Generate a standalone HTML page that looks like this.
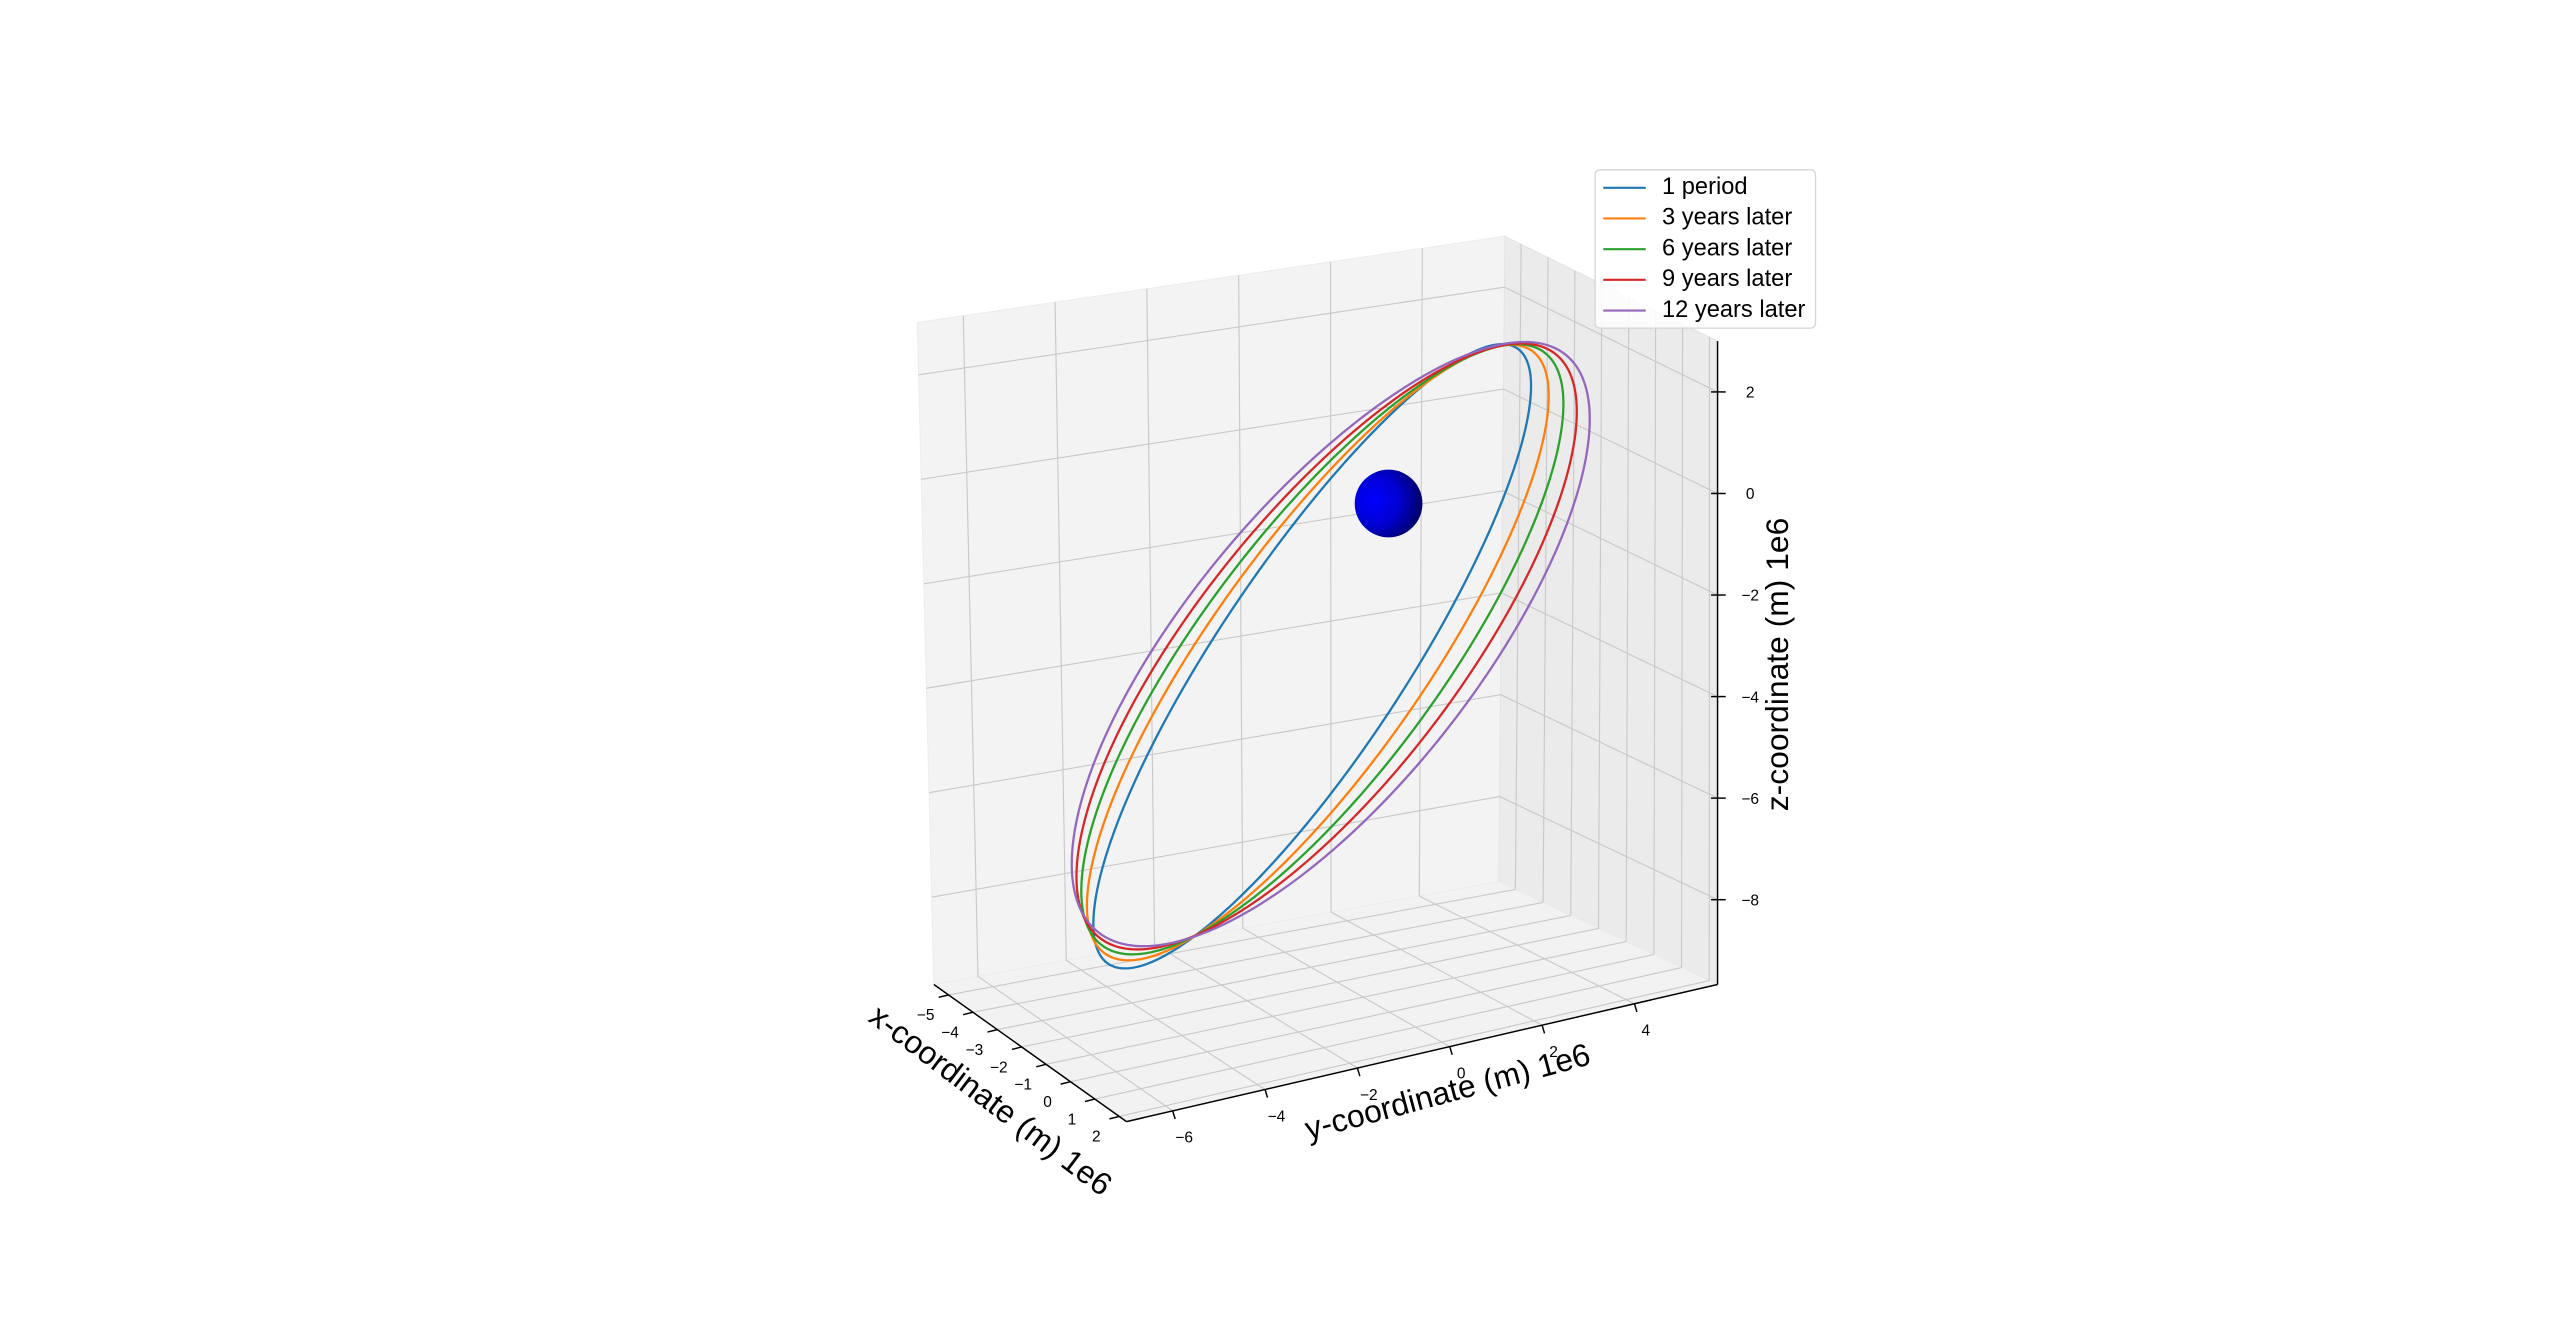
<!DOCTYPE html>
<html><head><meta charset="utf-8"><style>
html,body{margin:0;padding:0;background:#fff;width:2560px;height:1335px;overflow:hidden}
svg{display:block}
text{font-family:"Liberation Sans","DejaVu Sans",sans-serif}
</style></head><body>
<svg id="chart" width="2560" height="1335" viewBox="0 0 1568 817.7" preserveAspectRatio="none" xmlns="http://www.w3.org/2000/svg">
<defs>
<radialGradient id="earthGrad" cx="0.28" cy="0.45" r="0.85">
<stop offset="0" stop-color="#0000ff"/><stop offset="0.45" stop-color="#0000d0"/><stop offset="1" stop-color="#000040"/>
</radialGradient>
</defs>
<g id="panes"></g>
<g id="grid"></g>
<g id="axes"></g>
<g id="orbits"></g>
<g id="earth"></g>
<text x="606" y="675" font-size="19.5" text-anchor="middle" dominant-baseline="middle" transform="rotate(37 606 675)">x-coordinate (m) 1e6</text>
<text x="887" y="670" font-size="19.5" text-anchor="middle" dominant-baseline="middle" transform="rotate(-15 887 670)">y-coordinate (m) 1e6</text>
<text x="1090" y="407" font-size="19.5" text-anchor="middle" dominant-baseline="middle" transform="rotate(-90 1090 407)">z-coordinate (m) 1e6</text>
<g>
<rect x="977" y="104" width="135" height="97" rx="3" fill="#fff" fill-opacity="0.85" stroke="#d5d5d5" stroke-width="0.8"/>
<g id="legendItems"></g>
</g>
</svg>
<script>
const xTicks=[-5,-4,-3,-2,-1,0,1,2];
const yTicks=[-6,-4,-2,0,2,4];
const zTicks=[-8,-6,-4,-2,0,2];
const seriesNames=["1 period","3 years later","6 years later","9 years later","12 years later"];
const seriesColors=["#1f77b4","#ff7f0e","#2ca02c","#d62728","#9467bd"];
// orbit center (data units, 1e6 m) and conjugate semi-axis vectors per series
const centerX=[-3.0,-2.79,-2.62,-2.46,-2.305];
const centerY=[0,0,0,0,0];
const centerZ=[-3.78,-3.65,-3.54,-3.44,-3.35];
const axisAX=[8.34,8.79,9.17,9.51,9.84];
const axisAZ=[7.52,7.37,7.25,7.13,7.02];
const axisBX=[0,0,0,0,0];
const axisBZ=[-3.04,-3.31,-3.53,-3.73,-3.93];
const earthCenter=[0,0,0];
const earthRadius=0.68;
const xLim=[-5.6,2.3], yLim=[-7,5.8], zLim=[-9.67,3.0];

const NS="http://www.w3.org/2000/svg";
const F00=[572,603],F10=[690,687],F11=[1052,603],F01=[918,540];
const ZS00=32.0,ZS10=33.2,ZS11=31.1,ZS01=31.2;
const DX00=-0.8,DX10=0,DX11=0,DX01=0.3;
function proj(x,y,z){
  const s=(x-xLim[0])/(xLim[1]-xLim[0]), t=(y-yLim[0])/(yLim[1]-yLim[0]);
  const w00=(1-s)*(1-t),w10=s*(1-t),w11=s*t,w01=(1-s)*t;
  const dz=z-zLim[0];
  const zs=w00*ZS00+w10*ZS10+w11*ZS11+w01*ZS01;
  const dx=w00*DX00+w10*DX10+w11*DX11+w01*DX01;
  const px=w00*F00[0]+w10*F10[0]+w11*F11[0]+w01*F01[0]+dz*dx;
  const py=w00*F00[1]+w10*F10[1]+w11*F11[1]+w01*F01[1]-dz*zs;
  return [px,py];
}
function mk(tag,attrs,parent){const e=document.createElementNS(NS,tag);for(const k in attrs)e.setAttribute(k,attrs[k]);parent.appendChild(e);return e;}
function poly(pts){return pts.map(p=>p[0].toFixed(2)+","+p[1].toFixed(2)).join(" ");}

const panes=document.getElementById('panes');
const [x0,x1]=xLim,[y0,y1]=yLim,[z0,z1]=zLim;
let p=mk('polygon',{points:poly([proj(x0,y0,z0),proj(x0,y1,z0),proj(x0,y1,z1),proj(x0,y0,z1)]),fill:'#f3f3f3',stroke:'#ececec','stroke-width':0.6},panes);


p=mk('polygon',{points:poly([proj(x0,y1,z0),proj(x1,y1,z0),proj(x1,y1,z1),proj(x0,y1,z1)]),fill:'#ebebeb',stroke:'#e4e4e4','stroke-width':0.6},panes);


p=mk('polygon',{points:poly([proj(x0,y0,z0),proj(x1,y0,z0),proj(x1,y1,z0),proj(x0,y1,z0)]),fill:'#f2f2f2',stroke:'#ececec','stroke-width':0.6},panes);



const grid=document.getElementById('grid');
function gl(a,b,name){const l=mk('line',{x1:a[0],y1:a[1],x2:b[0],y2:b[1],stroke:'#c9c9c9','stroke-width':0.7},grid);

}
xTicks.forEach(v=>{gl(proj(v,y0,z0),proj(v,y1,z0),'grid-x-floor');gl(proj(v,y1,z0),proj(v,y1,z1),'grid-x-wall');});
yTicks.forEach(v=>{gl(proj(x0,v,z0),proj(x1,v,z0),'grid-y-floor');gl(proj(x0,v,z0),proj(x0,v,z1),'grid-y-wall');});
zTicks.forEach(v=>{gl(proj(x0,y0,v),proj(x0,y1,v),'grid-z-left');gl(proj(x0,y1,v),proj(x1,y1,v),'grid-z-right');});

const axes=document.getElementById('axes');
function al(a,b,name){const l=mk('line',{x1:a[0],y1:a[1],x2:b[0],y2:b[1],stroke:'#000','stroke-width':0.9},axes);

}
al(proj(x0,y0,z0),proj(x1,y0,z0),'x-axis-line');
al(proj(x1,y0,z0),proj(x1,y1,z0),'y-axis-line');
al(proj(x1,y1,z0),proj(x1,y1,z1),'z-axis-line');
function tl(txt,x,y,name){const t=mk('text',{x:x,y:y,'font-size':9.5,'text-anchor':'middle','dominant-baseline':'middle',fill:'#000'},axes);t.textContent=txt;

}
function lab(v){return v<0?'\u2212'+Math.abs(v):String(v);}
xTicks.forEach(v=>{const a=proj(v,y0,z0);al(a,[a[0]-6,a[1]+1.5],'x-tick');tl(lab(v),a[0]-14,a[1]+13,'x-tick-label');});
yTicks.forEach(v=>{const a=proj(x1,v,z0);al(a,[a[0]+1.5,a[1]+5],'y-tick');tl(lab(v),a[0]+7,a[1]+17,'y-tick-label');});
zTicks.forEach(v=>{const a=proj(x1,y1,v);al([a[0]-4,a[1]],[a[0]+5,a[1]],'z-tick');tl(lab(v),a[0]+20,a[1]+1,'z-tick-label');});

// orbits
const orbits=document.getElementById('orbits');
seriesNames.forEach((n,i)=>{
  const pts=[];
  for(let k=0;k<=360;k++){
    const t=k*Math.PI/180, c=Math.cos(t), s=Math.sin(t);
    const X=centerX[i]+c*axisAX[i]+s*axisBX[i];
    const Y=centerY[i];
    const Z=centerZ[i]+c*axisAZ[i]+s*axisBZ[i];
    pts.push(proj(X,Y,Z));
  }
  const pl=mk('polyline',{points:poly(pts),fill:'none',stroke:seriesColors[i],'stroke-width':1.4},orbits);
  
  
});
// earth
const ec=proj(earthCenter[0],earthCenter[1],earthCenter[2]);
const c=mk('ellipse',{cx:ec[0],cy:ec[1]-3,rx:earthRadius*30.5,ry:earthRadius*30.5,fill:'url(#earthGrad)'},document.getElementById('earth'));



// legend
const lg=document.getElementById('legendItems');
seriesNames.forEach((n,i)=>{
  const y=115+i*18.8;
  const l=mk('line',{x1:982,y1:y,x2:1008,y2:y,stroke:seriesColors[i],'stroke-width':1.3},lg);
  
  
  const t=mk('text',{x:1018,y:y,'font-size':14.5,'dominant-baseline':'middle',fill:'#000'},lg);
  t.textContent=n;
  
  
});
</script>
</body></html>
